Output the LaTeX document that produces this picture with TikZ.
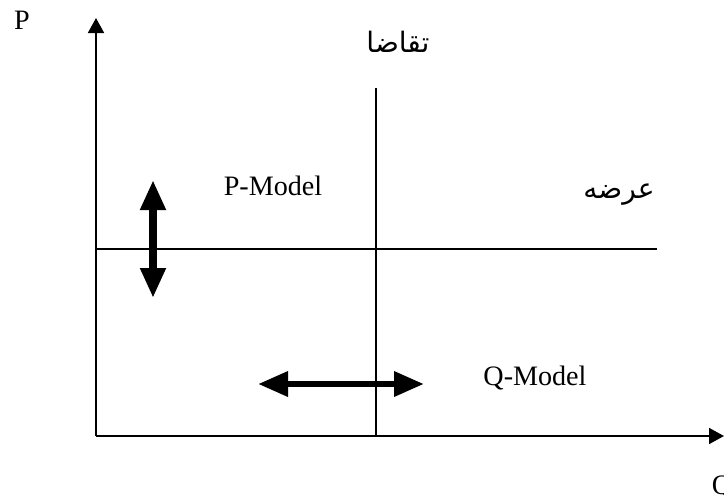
\documentclass[tikz,border=0pt]{standalone}
\usepackage{fontspec}
\setmainfont{Liberation Serif}
\newfontfamily\arabicfont[Script=Arabic]{DejaVu Sans}
\TeXXeTstate=1
\usetikzlibrary{arrows.meta,positioning}

\begin{document}
\begin{tikzpicture}[
    every node/.style={font=\fontsize{8}{9.6}\selectfont},
    axis/.style={line width=0.5pt, -{Triangle[length=0.15cm,width=0.16cm]}},
    thinline/.style={line width=0.4pt},
    bigarrow/.style={line width=0.075cm,
        {Triangle[length=0.30cm,width=0.24cm]}-{Triangle[length=0.30cm,width=0.24cm]}},
    arlbl/.style={font=\fontsize{8}{9.6}\arabicfont}
]
    \useasboundingbox (0,0) rectangle (7.24,5.01);

    % Axes
    \coordinate (O) at (0.96,0.65);
    \coordinate (ytip) at (0.96,4.83);
    \coordinate (xtip) at (7.24,0.65);
    \draw[axis] (O) -- (ytip);
    \draw[axis] (O) -- (xtip);
    \node (P) at (0.22,4.81) {P};
    \node (Q) at (7.22,0.14) {Q};

    % Demand and supply lines
    \coordinate (dtop) at (3.76,4.13);
    \coordinate (dbot) at (3.76,0.65);
    \coordinate (sleft) at (0.96,2.52);
    \coordinate (sright) at (6.57,2.52);
    \draw[thinline] (dtop) -- (dbot);
    \draw[thinline] (sleft) -- (sright);
    \node[arlbl] (demand) at (3.98,4.59) {\beginR تقاضا\endR};
    \node[arlbl] (supply) at (6.19,3.06) {\beginR عرضه\endR};

    % Models
    \node (pmodel) at (2.73,3.15) {P-Model};
    \node (qmodel) at (5.35,1.23) {Q-Model};

    % Thick double arrows
    \coordinate (vtop) at (1.53,3.21);
    \coordinate (vbot) at (1.53,2.03);
    \coordinate (hleft) at (2.58,1.17);
    \coordinate (hright) at (4.24,1.17);
    \draw[bigarrow] (vbot) -- (vtop);
    \draw[bigarrow, line width=0.065cm] (hleft) -- (hright);
\end{tikzpicture}
\end{document}
